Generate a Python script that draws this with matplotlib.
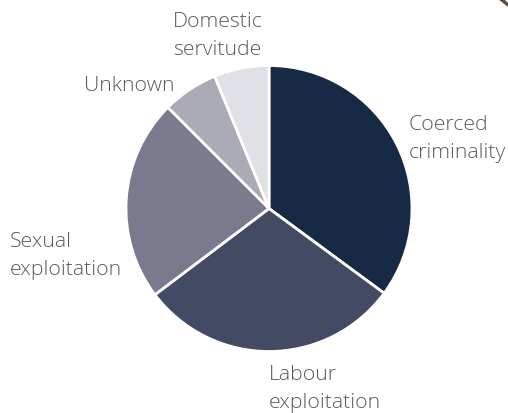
import numpy as np
import matplotlib.pyplot as plt
from matplotlib.patches import Polygon

# -------------------------------------------------------------------------
# Data (percent of cases)
# -------------------------------------------------------------------------
categories = ['Coerced criminality', 'Labour exploitation', 'Sexual exploitation',
              'Unknown', 'Domestic servitude']
shares = [35.1, 29.6, 22.8, 6.3, 6.2]
colours = ['#162a45', '#434a63', '#797a8e', '#ababb8', '#e0e0e7']

label_text = ['Coerced\ncriminality', 'Labour\nexploitation', 'Sexual\nexploitation',
              'Unknown', 'Domestic\nservitude']

# -------------------------------------------------------------------------
# Plot
# -------------------------------------------------------------------------
W, H = 508, 414
cx, cy, r = 269, 209.5, 143  # pie centre and radius in pixels

fig = plt.figure(figsize=(W / 100, H / 100), dpi=100, facecolor='white')
ax = fig.add_axes([0, 0, 1, 1])

ax.pie(
  shares,
  colors=colours,
  startangle=90,
  counterclock=False,
  radius=1,
  wedgeprops=dict(edgecolor='white', linewidth=2),
)
# pie() resets the limits, so set them afterwards
ax.set_xlim(-cx / r, (W - cx) / r)
ax.set_ylim(-(H - cy) / r, cy / r)
ax.axis('off')


def px(x, y):
  return (x - cx) / r, (cy - y) / r


font = dict(family=['Open Sans', 'DejaVu Sans'], fontweight='light',
            fontsize=15.3, color='#5a5a5a', linespacing=1.55)

# label anchors in pixels: (x, y, ha)
anchors = [(409, 139, 'left'), (269, 389, 'left'), (10, 256, 'left'),
           (174, 86, 'right'), (218, 36, 'center')]
for txt, (x, y, ha) in zip(label_text, anchors):
  ax.text(*px(x, y), txt, ha=ha, va='center', multialignment='left', **font)

# little corner mark at the top right
fig.patches.append(Polygon(
  [(498 / W, 1), (504 / W, 1), (508 / W, 1 - 4 / H), (508 / W, 1 - 8 / H)],
  closed=True, transform=fig.transFigure, facecolor='#5b4b44', edgecolor='none'))

fig.savefig('out.png', dpi=100)
